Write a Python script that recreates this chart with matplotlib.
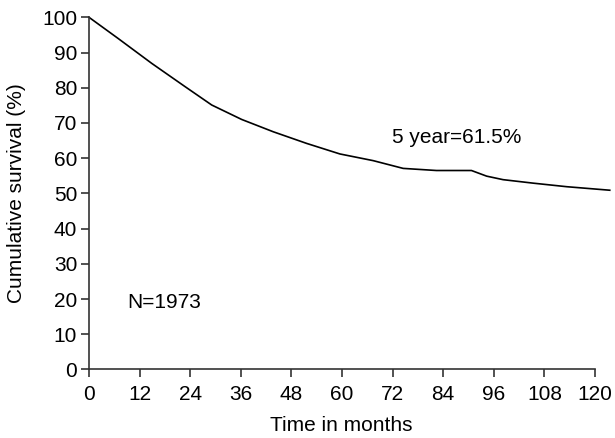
import matplotlib
matplotlib.use("Agg")
import matplotlib.pyplot as plt
import numpy as np

# survival curve (runs slightly past the 120 month tick)
months = [0, 6.9, 14.9, 22.8, 29.1, 36.2, 43.7, 51.6, 59.5, 67.4, 74.5, 82.4, 86.5, 90.7, 94.3, 98.2, 105.4, 113.3, 123.5]
survival = [100, 94.0, 86.9, 80.3, 75.1, 71.0, 67.5, 64.2, 61.2, 59.3, 57.1, 56.5, 56.5, 56.5, 54.9, 53.9, 52.9, 51.9, 50.9]

xticks = np.arange(0, 121, 12)
yticks = np.arange(0, 101, 10)

plt.rcParams["font.family"] = ["Liberation Sans", "DejaVu Sans"]
fs = 15

fig = plt.figure(figsize=(6.15, 4.38), dpi=100)
ax = fig.add_axes([0.1447, 0.1564, 0.8228, 0.8041])

ax.plot(months, survival, color="k", linewidth=1.2, clip_on=False)

ax.set_xlim(0, 120)
ax.set_ylim(0, 100)
ax.set_xticks(xticks)
ax.set_yticks(yticks)
ax.tick_params(labelsize=fs, direction="out", length=6, width=1.2,
               color="#333333")
ax.tick_params(axis="x", pad=5)
ax.tick_params(axis="y", pad=2.5)
ax.spines["top"].set_visible(False)
ax.spines["right"].set_visible(False)
for s in ("left", "bottom"):
    ax.spines[s].set_linewidth(1.2)
    ax.spines[s].set_color("#333333")

ax.set_xlabel("Time in months", fontsize=fs, va="center")
ax.set_ylabel("Cumulative survival (%)", fontsize=fs, va="center")
ax.xaxis.set_label_coords(0.498, -0.158)
ax.yaxis.set_label_coords(-0.144, 0.5)

ax.text(71.9, 66.0, "5 year=61.5%", fontsize=fs, va="center")
ax.text(9.0, 18.9, "N=1973", fontsize=fs, va="center")

plt.savefig("out.png", dpi=100)
